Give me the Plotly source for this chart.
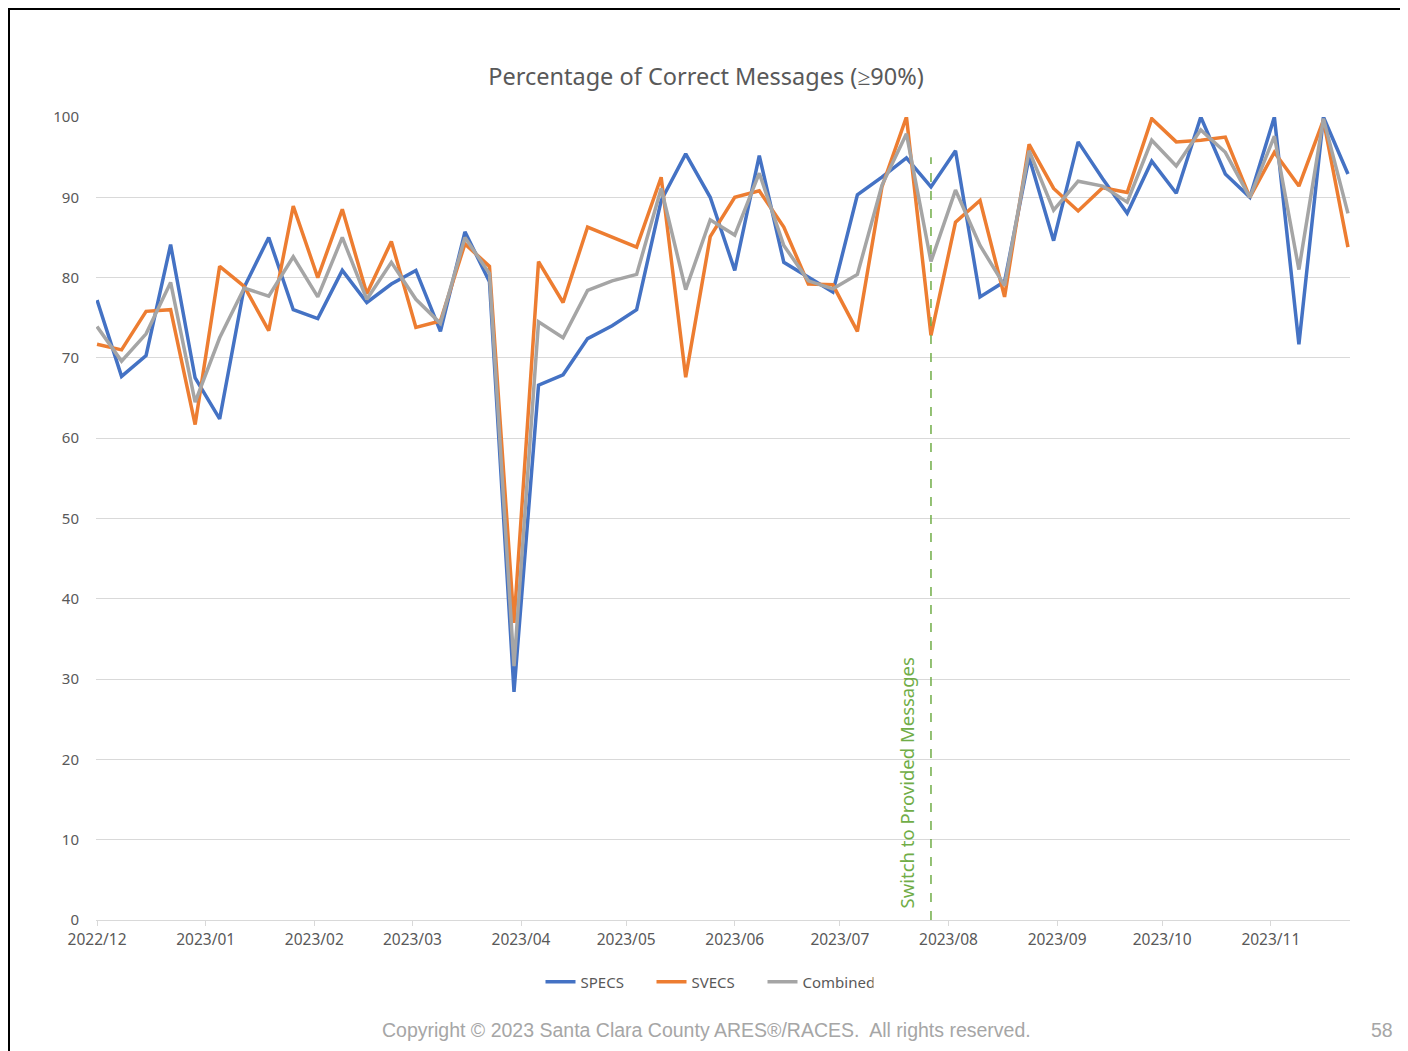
import plotly.graph_objects as go

# weekly net dates
dates = ["2022-12-01", "2022-12-08", "2022-12-15", "2022-12-22", "2022-12-29",
         "2023-01-05", "2023-01-12", "2023-01-19", "2023-01-26",
         "2023-02-02", "2023-02-09", "2023-02-16", "2023-02-23",
         "2023-03-02", "2023-03-09", "2023-03-16", "2023-03-23", "2023-03-30",
         "2023-04-06", "2023-04-13", "2023-04-20", "2023-04-27",
         "2023-05-04", "2023-05-11", "2023-05-18", "2023-05-25",
         "2023-06-01", "2023-06-08", "2023-06-15", "2023-06-22", "2023-06-29",
         "2023-07-06", "2023-07-13", "2023-07-20", "2023-07-27",
         "2023-08-03", "2023-08-10", "2023-08-17", "2023-08-24", "2023-08-31",
         "2023-09-07", "2023-09-14", "2023-09-21", "2023-09-28",
         "2023-10-05", "2023-10-12", "2023-10-19", "2023-10-26",
         "2023-11-02", "2023-11-09", "2023-11-16", "2023-11-23"]

specs = [77.2, 67.7, 70.3, 84.1, 67.5, 62.4, 78.8, 85.0, 76.0,
         74.9, 80.9, 76.9, 79.2, 80.9, 73.3, 85.7, 79.5, 28.4,
         66.6, 67.9, 72.4, 74.0, 76.0, 89.6, 95.4, 90.0, 80.9, 95.2,
         81.9, 80.0, 78.2, 90.3, 92.5, 94.9, 91.3, 95.8, 77.6, 79.5,
         95.0, 84.6, 96.9, 92.3, 88.0, 94.5, 90.5, 100.0, 92.9, 90.0,
         100.0, 71.7, 100.0, 92.9]
svecs = [71.7, 71.0, 75.8, 76.0, 61.7, 81.4, 78.9, 73.4, 88.9,
         80.0, 88.5, 78.0, 84.5, 73.8, 74.6, 84.2, 81.4, 37.0,
         82.0, 76.9, 86.3, 85.0, 83.8, 92.5, 67.6, 85.1, 90.0, 90.8,
         86.3, 79.2, 79.1, 73.3, 91.3, 100.0, 72.8, 86.9, 89.6, 77.6,
         96.6, 91.1, 88.3, 91.2, 90.6, 99.8, 96.9, 97.1, 97.5, 90.0,
         95.6, 91.4, 99.6, 83.8]
combined = [73.9, 69.6, 73.0, 79.4, 64.5, 72.5, 78.7, 77.7, 82.6,
            77.6, 85.0, 77.3, 81.9, 77.3, 74.3, 85.0, 80.5, 31.6,
            74.5, 72.5, 78.4, 79.6, 80.4, 91.1, 78.5, 87.2, 85.3, 93.0,
            84.0, 79.6, 78.6, 80.4, 91.5, 97.9, 82.0, 90.9, 84.0, 79.0,
            95.8, 88.4, 92.0, 91.4, 89.4, 97.1, 93.9, 98.4, 95.6, 90.0,
            97.6, 81.0, 99.8, 88.0]

switch_date = "2023-07-27"
switch_top = 95
switch_label = "Switch to Provided Messages"

month_ticks = ["2022-12-01", "2023-01-01", "2023-02-01", "2023-03-01", "2023-04-01",
               "2023-05-01", "2023-06-01", "2023-07-01", "2023-08-01", "2023-09-01",
               "2023-10-01", "2023-11-01"]
month_labels = ["2022/12", "2023/01", "2023/02", "2023/03", "2023/04", "2023/05",
                "2023/06", "2023/07", "2023/08", "2023/09", "2023/10", "2023/11"]

font = "Noto Sans"
grey = "#595959"

# the page puts the figure 8px in from the top-left corner
OFF = 8
L, R, T, B = 96 - OFF, 1350 - OFF, 117 - OFF, 920 - OFF

def px(x):
    return (x - OFF - L) / (R - L)

def py(y):
    return (B - (y - OFF)) / (B - T)

fig = go.Figure()
fig.add_trace(go.Scatter(x=dates, y=specs, mode="lines", name="SPECS",
                         line=dict(color="#4472C4", width=3.5)))
fig.add_trace(go.Scatter(x=dates, y=svecs, mode="lines", name="SVECS",
                         line=dict(color="#ED7D31", width=3.5)))
fig.add_trace(go.Scatter(x=dates, y=combined, mode="lines", name="Combined",
                         line=dict(color="#A5A5A5", width=3.5)))

# switch marker
fig.add_shape(type="line", xref="x", yref="y", x0=switch_date, x1=switch_date,
              y0=0, y1=switch_top, line=dict(color="#70AD47", width=1.5, dash="dash"))
fig.add_annotation(x=switch_date, y=0, xref="x", yref="y", text=switch_label,
                   textangle=-90, showarrow=False, xanchor="right", yanchor="bottom",
                   xshift=-10, yshift=10, font=dict(family=font, size=18.5, color="#70AD47"))

# footer
fig.add_annotation(x=px(706), y=py(1030), xref="paper", yref="paper",
                   xanchor="center", yanchor="middle",
                   text="Copyright © 2023 Santa Clara County ARES®/RACES.  All rights reserved.",
                   showarrow=False, font=dict(family="Liberation Sans", size=19.5, color="#a6a6a6"))
fig.add_annotation(x=px(1382), y=py(1030), xref="paper", yref="paper",
                   xanchor="center", yanchor="middle",
                   text="58", showarrow=False,
                   font=dict(family="Liberation Sans", size=19.5, color="#a6a6a6"))

# slide border
fig.add_shape(type="rect", xref="paper", yref="paper",
              x0=px(9), x1=px(1405), y0=py(1075), y1=py(9),
              line=dict(color="black", width=2), layer="below")

fig.update_layout(
    width=1408, height=1051,
    margin=dict(l=L, r=1408 - R, t=T, b=1051 - B, autoexpand=False),
    paper_bgcolor="white", plot_bgcolor="white",
    font=dict(family=font, color=grey),
    title=dict(text="Percentage of Correct Messages (≥90%)", xref="paper", x=px(706),
               xanchor="center", y=1 - (77 - OFF) / 1051, yanchor="middle",
               font=dict(family=font, size=23.5, color=grey)),
    legend=dict(orientation="h", x=px(707), xanchor="center", entrywidth=66,
                y=py(982), yanchor="middle", font=dict(family=font, size=15, color=grey)),
    showlegend=True,
)
fig.update_xaxes(type="date", range=["2022-11-30 17:00", "2023-11-23 14:00"],
                 tickvals=month_ticks, ticktext=month_labels, tickangle=0,
                 showgrid=False, showline=True, linecolor="#d9d9d9", linewidth=1,
                 ticks="outside", ticklen=5, tickcolor="#d9d9d9",
                 tickfont=dict(family=font, size=15.5, color=grey), zeroline=False)
fig.update_yaxes(range=[0, 100], dtick=10, showgrid=True, gridcolor="#d9d9d9", gridwidth=1,
                 zeroline=False, showline=False, ticklabelstandoff=16,
                 tickfont=dict(family=font, size=15, color=grey))

fig.write_html("out.html")
